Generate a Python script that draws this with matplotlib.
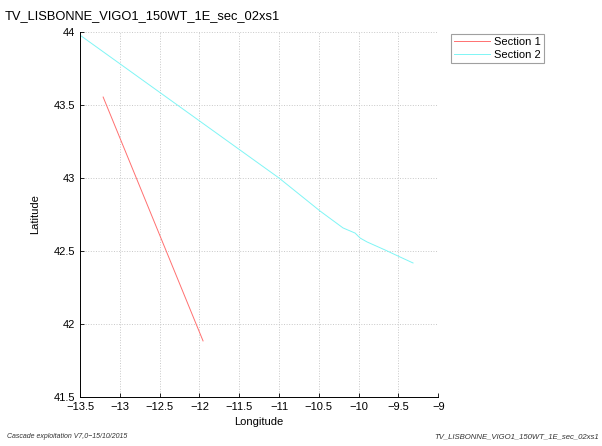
import matplotlib
matplotlib.use("Agg")
import matplotlib.pyplot as plt

TITLE = "TV_LISBONNE_VIGO1_150WT_1E_sec_02xs1"

# section tracks (longitude, latitude)
sec1_lon = [-13.21, -11.955]
sec1_lat = [43.555, 41.884]

sec2_lon = [-13.5, -11.0, -10.485, -10.196, -10.045, -9.982, -9.894, -9.668, -9.480, -9.317]
sec2_lat = [43.979, 43.0, 42.774, 42.658, 42.623, 42.589, 42.562, 42.507, 42.459, 42.418]

xticks = [-13.5, -13, -12.5, -12, -11.5, -11, -10.5, -10, -9.5, -9]
yticks = [41.5, 42, 42.5, 43, 43.5, 44]

plt.rcParams["font.family"] = ["Liberation Sans", "DejaVu Sans"]

fig = plt.figure(figsize=(6.02, 4.46), dpi=100)
ax = fig.add_axes([0.133, 0.110, 0.595, 0.818])

ax.plot(sec1_lon, sec1_lat, color="#ff7070", lw=0.7, label="Section 1")
ax.plot(sec2_lon, sec2_lat, color="#7ff5f5", lw=0.7, label="Section 2")

ax.set_xlim(-13.5, -9)
ax.set_ylim(41.5, 44)
ax.set_xticks(xticks)
ax.set_yticks(yticks)
ax.set_xticklabels([f"{v:g}".replace("-", "\u2212") for v in xticks])
ax.set_yticklabels([f"{v:g}" for v in yticks])
ax.tick_params(direction="in", labelsize=8, length=3, width=0.6)
ax.grid(True, ls=":", color="#c8c8c8", lw=0.7)
for s in ("top", "right"):
    ax.spines[s].set_visible(False)
for s in ("left", "bottom"):
    ax.spines[s].set_linewidth(0.7)

ax.set_xlabel("Longitude", fontsize=8)
ax.set_ylabel("Latitude", fontsize=8, labelpad=10)

fig.text(0.008, 0.965, TITLE, fontsize=9.3, ha="left", va="center")

leg = ax.legend(loc="upper left", bbox_to_anchor=(1.02, 1.01), fontsize=8,
                frameon=True, fancybox=False, handlelength=3.2,
                borderpad=0.3, labelspacing=0.2, handletextpad=0.4)
leg.get_frame().set_edgecolor("#888888")
leg.get_frame().set_linewidth(0.8)

fig.text(0.012, 0.018, "Cascade exploitation V7,0\u221215/10/2015", fontsize=5,
         style="italic", color="#333333", ha="left")
fig.text(0.995, 0.018, TITLE, fontsize=5.6, style="italic", color="#333333", ha="right")

fig.savefig("out.png", dpi=100)
